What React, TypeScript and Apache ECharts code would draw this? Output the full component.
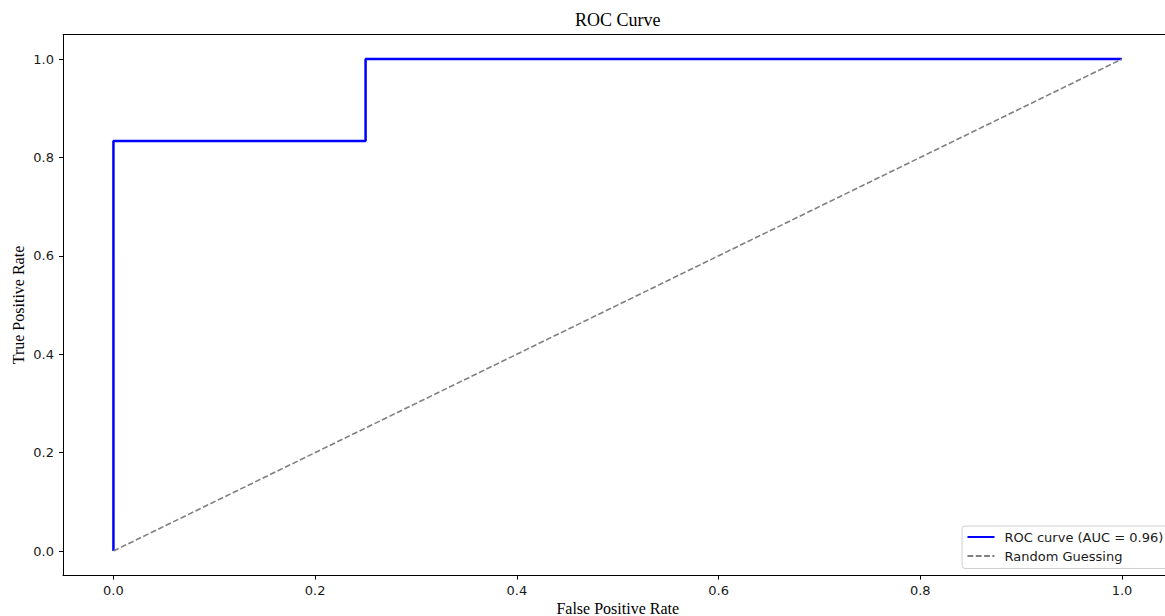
import React, { useEffect, useRef } from "react";
import * as echarts from "echarts";

const rocFpr = [0, 0, 0.25, 0.25, 1];
const rocTpr = [0, 0.8333, 0.8333, 1, 1];
const diagX = [0, 1];
const diagY = [0, 1];
const tickValues = [0, 0.2, 0.4, 0.6, 0.8, 1.0];
const rocLabel = "ROC curve (AUC = 0.96)";
const randomLabel = "Random Guessing";
const titleText = "ROC Curve";
const xName = "False Positive Rate";
const yName = "True Positive Rate";

const W = 1165;
const H = 616;

export default function App() {
  const ref = useRef<HTMLDivElement>(null);
  useEffect(() => {
    if (!ref.current) return;
    const chart = echarts.init(ref.current, null, { renderer: "svg" });
    const xMin = -0.05;
    const xMax = 1.0426;
    const axisCommon = {
      axisLine: { show: true, onZero: false, lineStyle: { color: "#000", width: 1 } },
      splitLine: { show: false },
    };
    chart.setOption({
      animation: false,
      backgroundColor: "#fff",
      grid: { left: 63, top: 34.4, right: 0, bottom: 40.4, containLabel: false },
      xAxis: [
        {
          type: "value",
          min: xMin,
          max: xMax,
          position: "bottom",
          ...axisCommon,
          axisTick: { show: true, length: 4, customValues: tickValues, lineStyle: { color: "#000" } },
          axisLabel: {
            show: true,
            customValues: tickValues,
            margin: 8,
            fontSize: 13,
            fontFamily: "DejaVu Sans",
            color: "#1a1a1a",
            formatter: (v: number) => v.toFixed(1),
          },
        },
        {
          type: "value",
          min: xMin,
          max: xMax,
          position: "top",
          ...axisCommon,
          axisTick: { show: false },
          axisLabel: { show: false },
        },
      ],
      yAxis: {
        type: "value",
        min: -0.05,
        max: 1.05,
        ...axisCommon,
        axisTick: { show: true, length: 4, customValues: tickValues, lineStyle: { color: "#000" } },
        axisLabel: {
          show: true,
          customValues: tickValues,
          margin: 9,
          fontSize: 13,
          fontFamily: "DejaVu Sans",
          color: "#1a1a1a",
          formatter: (v: number) => v.toFixed(1),
        },
      },
      legend: {
        orient: "vertical",
        left: 962,
        top: 526,
        padding: [4.5, 8, 6, 4.5],
        itemWidth: 27,
        itemHeight: 14,
        itemGap: 6,
        borderColor: "#d0d0d0",
        borderWidth: 1,
        borderRadius: 3,
        backgroundColor: "rgba(255,255,255,0.8)",
        itemStyle: { opacity: 0 },
        textStyle: { fontSize: 13, fontFamily: "DejaVu Sans", color: "#1a1a1a", padding: [0, 0, 0, 5] },
        data: [rocLabel, randomLabel],
      },
      graphic: [
        {
          type: "text",
          x: 617.75,
          y: 20,
          style: {
            text: titleText,
            font: "18px 'Liberation Serif'",
            fill: "#000",
            textAlign: "center",
            textVerticalAlign: "middle",
          },
        },
        {
          type: "text",
          x: 617.75,
          y: 608,
          style: {
            text: xName,
            font: "16px 'Liberation Serif'",
            fill: "#000",
            textAlign: "center",
            textVerticalAlign: "middle",
          },
        },
        {
          type: "text",
          x: 18.5,
          y: 305,
          rotation: Math.PI / 2,
          style: {
            text: yName,
            font: "16px 'Liberation Serif'",
            fill: "#000",
            textAlign: "center",
            textVerticalAlign: "middle",
          },
        },
      ],
      series: [
        {
          name: rocLabel,
          type: "line",
          xAxisIndex: 0,
          showSymbol: false,
          symbol: "none",
          lineStyle: { color: "#0000ff", width: 2.5 },
          itemStyle: { color: "#0000ff" },
          data: rocFpr.map((x, i) => [x, rocTpr[i]]),
        },
        {
          name: randomLabel,
          type: "line",
          xAxisIndex: 0,
          showSymbol: false,
          symbol: "none",
          lineStyle: { color: "#808080", width: 1.6, type: [5.8, 2.5] },
          itemStyle: { color: "#808080" },
          data: diagX.map((x, i) => [x, diagY[i]]),
        },
      ],
    });
    return () => chart.dispose();
  }, []);
  return (
    <div
      ref={ref}
      style={{ position: "fixed", left: 0, top: 0, width: W, height: H, background: "#fff" }}
    />
  );
}
